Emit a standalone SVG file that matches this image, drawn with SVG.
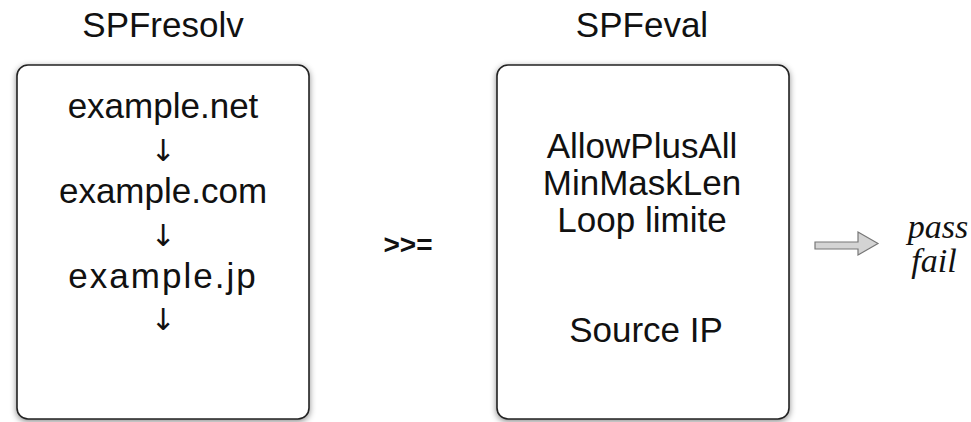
<svg xmlns="http://www.w3.org/2000/svg" width="971" height="422" viewBox="0 0 971 422">
  <defs>
    <filter id="shadow" x="-10%" y="-10%" width="120%" height="120%">
      <feDropShadow dx="0" dy="2" stdDeviation="3" flood-color="#000" flood-opacity="0.45"/>
    </filter>
  </defs>
  <style>
    .box { fill: #ffffff; stroke: #222; stroke-width: 1.6; filter: url(#shadow); }
    .title { font-family: "Liberation Sans", Arial, sans-serif; font-size: 35px; fill: #111; text-anchor: middle; }
    .item { font-family: "Liberation Sans", Arial, sans-serif; font-size: 35px; fill: #111; text-anchor: middle; }
    .down { font-family: "DejaVu Sans", sans-serif; font-size: 30px; fill: #111; text-anchor: middle; }
    .op { font-family: "Liberation Sans", Arial, sans-serif; font-size: 28px; font-weight: bold; fill: #111; text-anchor: middle; }
    .result { font-family: "Liberation Serif", "Times New Roman", serif; font-style: italic; font-size: 34px; fill: #111; text-anchor: middle; }
    .fat { fill: #d4d4d4; stroke: #777; stroke-width: 1.2; }
  </style>

  <rect width="971" height="422" fill="#ffffff"/>

  <!-- resolver stage -->
  <g id="spfresolv">
    <text class="title" x="163" y="37">SPFresolv</text>
    <rect class="box" x="17" y="65" width="292" height="354" rx="11" ry="11"/>
    <text class="item" x="163" y="118">example.net</text>
    <text class="down" x="163" y="161">↓</text>
    <text class="item" x="163" y="203">example.com</text>
    <text class="down" x="163" y="246">↓</text>
    <text class="item" x="163" y="288" letter-spacing="2">example.jp</text>
    <text class="down" x="163" y="330">↓</text>
  </g>

  <!-- bind operator -->
  <g id="bind">
    <text class="op" x="408" y="254">&gt;&gt;=</text>
  </g>

  <!-- evaluator stage -->
  <g id="spfeval">
    <text class="title" x="642" y="37">SPFeval</text>
    <rect class="box" x="497" y="65" width="292" height="354" rx="11" ry="11"/>
    <text class="item" x="642" y="158">AllowPlusAll</text>
    <text class="item" x="642" y="195">MinMaskLen</text>
    <text class="item" x="642" y="232">Loop limite</text>
    <text class="item" x="646" y="342">Source IP</text>
  </g>

  <!-- output -->
  <g id="connectors">
    <path class="fat" d="M815,242 H858 V232 L878,243.5 L858,255 V249 H815 Z"/>
  </g>
  <g id="result">
    <text class="result" x="938" y="238">pass</text>
    <text class="result" x="934" y="272">fail</text>
  </g>
</svg>
